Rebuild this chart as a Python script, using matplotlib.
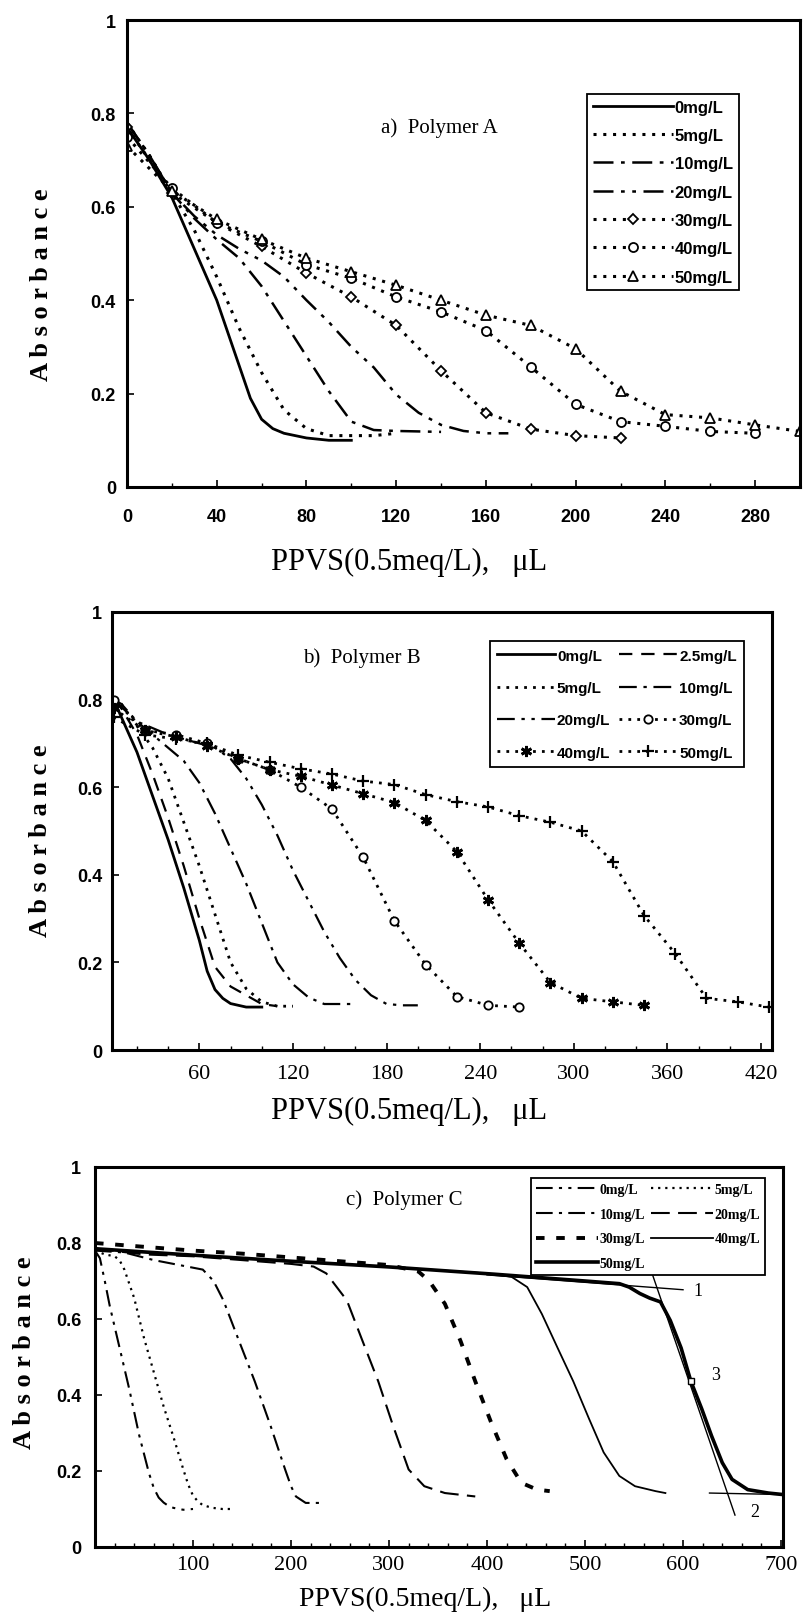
import matplotlib
matplotlib.use("Agg")
import matplotlib.pyplot as plt
from matplotlib.ticker import MultipleLocator, FuncFormatter

# ---------------- data: a) Polymer A ----------------
a_labels = ["0mg/L", "5mg/L", "10mg/L", "20mg/L", "30mg/L", "40mg/L", "50mg/L"]

a0_x = [0, 10, 20, 30, 40, 50, 55, 60, 65, 70, 80, 90, 100]
a0_y = [0.77, 0.70, 0.62, 0.51, 0.40, 0.26, 0.19, 0.145, 0.125, 0.115, 0.105, 0.10, 0.10]

a5_x = [0, 10, 20, 30, 40, 50, 60, 70, 80, 90, 100, 110, 120]
a5_y = [0.78, 0.71, 0.63, 0.55, 0.45, 0.34, 0.245, 0.165, 0.125, 0.11, 0.11, 0.11, 0.115]

a10_x = [0, 10, 20, 30, 40, 50, 60, 70, 80, 90, 100, 110, 120, 130, 140]
a10_y = [0.78, 0.71, 0.63, 0.575, 0.53, 0.49, 0.43, 0.355, 0.28, 0.205, 0.14, 0.122, 0.12, 0.119, 0.118]

a20_x = [0, 10, 20, 30, 40, 50, 60, 70, 80, 90, 100, 110, 120, 130, 140, 150, 160, 170]
a20_y = [0.78, 0.71, 0.63, 0.58, 0.54, 0.51, 0.485, 0.45, 0.40, 0.353, 0.30, 0.256, 0.198,
         0.159, 0.133, 0.12, 0.115, 0.115]

a30_x = [0, 20, 40, 60, 80, 100, 120, 140, 160, 180, 200, 220]
a30_y = [0.77, 0.63, 0.566, 0.515, 0.458, 0.407, 0.346, 0.249, 0.159, 0.124, 0.11, 0.105]

a40_x = [0, 20, 40, 60, 80, 100, 120, 140, 160, 180, 200, 220, 240, 260, 280]
a40_y = [0.75, 0.64, 0.566, 0.526, 0.476, 0.447, 0.407, 0.375, 0.335, 0.257, 0.177, 0.14,
         0.13, 0.119, 0.115]

a50_x = [0, 20, 40, 60, 80, 100, 120, 140, 160, 180, 200, 220, 240, 260, 280, 300]
a50_y = [0.73, 0.634, 0.573, 0.53, 0.49, 0.461, 0.432, 0.40, 0.368, 0.346, 0.296, 0.205,
         0.155, 0.148, 0.133, 0.119]

# ---------------- data: b) Polymer B ----------------
b_labels = ["0mg/L", "2.5mg/L", "5mg/L", "10mg/L", "20mg/L", "30mg/L", "40mg/L", "50mg/L"]

b0_x = [5, 10, 20, 30, 40, 50, 60, 65, 70, 75, 80, 90, 100]
b0_y = [0.80, 0.76, 0.68, 0.58, 0.48, 0.37, 0.25, 0.18, 0.138, 0.118, 0.106, 0.098, 0.098]

b25_x = [5, 10, 20, 30, 40, 50, 60, 70, 80, 90, 100, 110]
b25_y = [0.80, 0.78, 0.72, 0.63, 0.53, 0.42, 0.30, 0.19, 0.145, 0.125, 0.105, 0.10]

b5_x = [5, 10, 20, 30, 40, 50, 60, 70, 80, 90, 100, 110, 120]
b5_y = [0.80, 0.79, 0.74, 0.69, 0.62, 0.52, 0.42, 0.31, 0.20, 0.14, 0.11, 0.10, 0.10]

b10_x = [5, 10, 20, 30, 40, 50, 60, 70, 80, 90, 100, 110, 120, 130, 140, 150, 160]
b10_y = [0.80, 0.79, 0.75, 0.72, 0.69, 0.66, 0.61, 0.54, 0.46, 0.38, 0.29, 0.20, 0.15,
         0.12, 0.105, 0.105, 0.105]

b20_x = [5, 20, 40, 60, 70, 80, 90, 100, 110, 120, 130, 140, 150, 160, 170, 180, 190, 200]
b20_y = [0.80, 0.75, 0.72, 0.70, 0.69, 0.665, 0.62, 0.56, 0.49, 0.41, 0.34, 0.27, 0.21,
         0.16, 0.125, 0.105, 0.102, 0.102]

b30_x = [5, 25, 45, 65, 85, 105, 125, 145, 165, 185, 205, 225, 245, 265]
b30_y = [0.80, 0.73, 0.72, 0.70, 0.665, 0.64, 0.60, 0.55, 0.44, 0.295, 0.195, 0.122, 0.102, 0.098]

b40_x = [5, 25, 45, 65, 85, 105, 125, 145, 165, 185, 205, 225, 245, 265, 285, 305, 325, 345]
b40_y = [0.78, 0.73, 0.715, 0.695, 0.665, 0.64, 0.625, 0.605, 0.585, 0.565, 0.524, 0.453,
         0.343, 0.244, 0.154, 0.118, 0.11, 0.102]

b50_x = [5, 25, 45, 65, 85, 105, 125, 145, 165, 185, 205, 225, 245, 265, 285, 305, 325,
         345, 365, 385, 405, 425]
b50_y = [0.76, 0.72, 0.71, 0.70, 0.673, 0.657, 0.642, 0.63, 0.614, 0.606, 0.583, 0.567,
         0.555, 0.535, 0.52, 0.50, 0.43, 0.307, 0.22, 0.118, 0.11, 0.098]

# ---------------- data: c) Polymer C ----------------
c_labels = ["0mg/L", "5mg/L", "10mg/L", "20mg/L", "30mg/L", "40mg/L", "50mg/L"]

c0_x = [0, 5, 10, 15, 20, 25, 30, 35, 40, 45, 50, 55, 60, 65, 70, 75, 80, 90, 100]
c0_y = [0.78, 0.76, 0.70, 0.635, 0.58, 0.525, 0.47, 0.415, 0.355, 0.295, 0.245, 0.195,
        0.155, 0.13, 0.117, 0.108, 0.103, 0.098, 0.10]

c5_x = [0, 10, 20, 25, 30, 40, 50, 60, 70, 80, 90, 95, 100, 105, 110, 120, 130, 140]
c5_y = [0.78, 0.77, 0.765, 0.755, 0.73, 0.655, 0.55, 0.46, 0.37, 0.29, 0.205, 0.165,
        0.135, 0.12, 0.11, 0.103, 0.10, 0.10]

c10_x = [0, 30, 60, 90, 110, 121, 131, 147, 163, 179, 194, 200, 205, 215, 231]
c10_y = [0.78, 0.775, 0.755, 0.74, 0.73, 0.70, 0.649, 0.542, 0.436, 0.32, 0.204, 0.16,
         0.133, 0.116, 0.116]

c20_x = [0, 50, 100, 150, 200, 223, 236, 257, 273, 289, 304, 320, 336, 357, 388]
c20_y = [0.785, 0.77, 0.765, 0.755, 0.745, 0.738, 0.72, 0.649, 0.542, 0.436, 0.32, 0.204,
         0.16, 0.142, 0.133]

c30_x = [0, 50, 100, 150, 200, 250, 300, 330, 341, 357, 373, 388, 404, 420, 435, 451, 464]
c30_y = [0.80, 0.79, 0.78, 0.772, 0.762, 0.752, 0.742, 0.725, 0.70, 0.64, 0.542, 0.436,
         0.329, 0.231, 0.169, 0.151, 0.147]

c40_x = [0, 100, 200, 300, 400, 425, 441, 456, 472, 488, 504, 519, 535, 551, 572, 582]
c40_y = [0.785, 0.768, 0.752, 0.737, 0.72, 0.711, 0.684, 0.613, 0.524, 0.436, 0.338, 0.249,
         0.187, 0.16, 0.147, 0.142]

c50_x = [0, 100, 200, 300, 407, 500, 535, 545, 556, 566, 577, 587, 598, 608, 619, 629,
         640, 650, 666, 687, 702]
c50_y = [0.785, 0.768, 0.752, 0.737, 0.718, 0.70, 0.693, 0.684, 0.667, 0.655, 0.645, 0.596,
         0.524, 0.436, 0.364, 0.293, 0.222, 0.178, 0.151, 0.142, 0.138]

# tangent construction on the 50mg/L curve
tan1_x = [400, 600]
tan1_y = [0.716, 0.677]
tan2_x = [566, 653]
tan2_y = [0.738, 0.084]
tan3_x = [627, 702]
tan3_y = [0.142, 0.138]
point3_x = [608]
point3_y = [0.436]

# ---------------- styles ----------------
DOT = (0, (1.0, 2.2))
DASH = (0, (6, 4))
LDASH = (0, (9, 4))
DASHDOT = (0, (8, 3, 1.5, 3))
DASHDOT2 = (0, (8, 3, 1.5, 3, 1.5, 3))

SANS = "Liberation Sans"
SERIF = "Liberation Serif"
XLABEL = "PPVS(0.5meq/L),   \u03bcL"
YLABEL = "A b s o r b a n c e"

fig = plt.figure(figsize=(8.05, 16.15), dpi=100)


def setup_axes(rect, xlim, xmajor, xminor, xfont, xsize, xpad, ylab_pad):
    ax = fig.add_axes(rect)
    ax.set_xlim(*xlim)
    ax.set_ylim(0, 1)
    ax.xaxis.set_major_locator(MultipleLocator(xmajor))
    ax.xaxis.set_minor_locator(MultipleLocator(xminor))
    ax.yaxis.set_major_locator(MultipleLocator(0.2))
    ax.yaxis.set_major_formatter(FuncFormatter(
        lambda v, p: "0" if abs(v) < 1e-9 else ("1" if abs(v - 1) < 1e-9 else f"{v:.1f}")))
    for s in ax.spines.values():
        s.set_linewidth(2.2)
    ax.tick_params(axis="both", which="major", direction="in", length=5, width=1.2)
    ax.tick_params(axis="x", which="minor", direction="in", length=3, width=1)
    ax.tick_params(axis="y", pad=ylab_pad)
    ax.tick_params(axis="x", pad=xpad)
    for t in ax.get_yticklabels():
        t.set_fontfamily(SANS)
        t.set_fontweight("bold")
        t.set_fontsize(13)
    for t in ax.get_xticklabels():
        t.set_fontfamily(xfont)
        t.set_fontsize(xsize)
        if xfont == SANS:
            t.set_fontweight("bold")
    return ax


def leg_style(leg):
    fr = leg.get_frame()
    fr.set_edgecolor("black")
    fr.set_linewidth(1.3)
    fr.set_alpha(1)


def add_xlabel(ax, x, y, size=22):
    ax.text(x, y, XLABEL, transform=ax.transAxes, ha="center", va="center",
            fontfamily=SERIF, fontsize=size)


def add_ylabel(ax, x, y):
    ax.text(x, y, YLABEL, transform=ax.transAxes, ha="center", va="center",
            rotation=90, fontfamily=SERIF, fontweight="bold", fontsize=19)


mk = dict(markerfacecolor="white", markeredgecolor="black", markeredgewidth=1.3)

# ================= panel a =================
axa = setup_axes([127 / 805, 1 - 488 / 1615, 673 / 805, 467 / 1615], (0, 300), 40, 20,
                 SANS, 13, 15, 8)
la = []
la += axa.plot(a0_x, a0_y, color="black", lw=2.0, ls="-")
la += axa.plot(a5_x, a5_y, color="black", lw=2.2, ls=DOT)
la += axa.plot(a10_x, a10_y, color="black", lw=1.8, ls=DASHDOT)
la += axa.plot(a20_x, a20_y, color="black", lw=1.8, ls=DASHDOT2)
la += axa.plot(a30_x, a30_y, color="black", lw=2.2, ls=DOT, marker="D", ms=5.5, **mk)
la += axa.plot(a40_x, a40_y, color="black", lw=2.2, ls=DOT, marker="o", ms=6.5, **mk)
la += axa.plot(a50_x, a50_y, color="black", lw=2.2, ls=DOT, marker="^", ms=6.5, **mk)
axa.text(0.464, 0.771, "a)  Polymer A", transform=axa.transAxes, ha="center", va="center",
         fontfamily=SERIF, fontsize=15)
lega = axa.legend(la, a_labels, loc="upper right", bbox_to_anchor=(0.909, 0.842),
                  prop={"family": SANS, "weight": "bold", "size": 12},
                  handlelength=4.8, handletextpad=0.1, labelspacing=0.8,
                  borderpad=0.35, borderaxespad=0, fancybox=False, framealpha=1)
leg_style(lega)
add_xlabel(axa, 0.419, -0.16)
add_ylabel(axa, -0.127, 0.435)

# ================= panel b =================
axb = setup_axes([112 / 805, 1 - 1051 / 1615, 660 / 805, 438 / 1615], (4, 427), 60, 20,
                 SERIF, 16, 10, 7)
lb = []
lb += axb.plot(b0_x, b0_y, color="black", lw=2.0, ls="-")
lb += axb.plot(b25_x, b25_y, color="black", lw=1.6, ls=DASH)
lb += axb.plot(b5_x, b5_y, color="black", lw=2.0, ls=DOT)
lb += axb.plot(b10_x, b10_y, color="black", lw=1.6, ls=DASHDOT)
lb += axb.plot(b20_x, b20_y, color="black", lw=1.6, ls=DASHDOT2)
lb += axb.plot(b30_x, b30_y, color="black", lw=2.0, ls=DOT, marker="o", ms=6, **mk)
lb += axb.plot(b40_x, b40_y, color="black", lw=2.0, ls=DOT, marker=(6, 2, 0), ms=8,
               markeredgewidth=2.0, markeredgecolor="black")
lb += axb.plot(b50_x, b50_y, color="black", lw=2.0, ls=DOT, marker="+", ms=9,
               markeredgewidth=1.6, markeredgecolor="black")
axb.text(0.379, 0.897, "b)  Polymer B", transform=axb.transAxes, ha="center", va="center",
         fontfamily=SERIF, fontsize=15)
order_b = [0, 2, 4, 6, 1, 3, 5, 7]
legb = axb.legend([lb[i] for i in order_b], [b_labels[i] for i in order_b], ncol=2,
                  loc="upper right", bbox_to_anchor=(0.958, 0.934),
                  prop={"family": SANS, "weight": "bold", "size": 11},
                  handlelength=3.8, handletextpad=0.1, labelspacing=1.2, columnspacing=0.6,
                  borderpad=0.5, borderaxespad=0, fancybox=False, framealpha=1)
leg_style(legb)
add_xlabel(axb, 0.45, -0.139)
add_ylabel(axb, -0.109, 0.48)

# ================= panel c =================
axc = setup_axes([95 / 805, 1 - 1548 / 1615, 688 / 805, 380 / 1615], (0, 702), 100, 20,
                 SERIF, 16, 6, 10)
axc.set_xticks([100, 200, 300, 400, 500, 600, 700])
for t in axc.get_xticklabels():
    t.set_fontfamily(SERIF)
    t.set_fontsize(16)
lc = []
lc += axc.plot(c0_x, c0_y, color="black", lw=1.5, ls=DASHDOT2)
lc += axc.plot(c5_x, c5_y, color="black", lw=1.6, ls=DOT)
lc += axc.plot(c10_x, c10_y, color="black", lw=1.5, ls=DASHDOT)
lc += axc.plot(c20_x, c20_y, color="black", lw=1.5, ls=LDASH)
lc += axc.plot(c30_x, c30_y, color="black", lw=2.8, ls=(0, (2.2, 3.0)))
lc += axc.plot(c40_x, c40_y, color="black", lw=1.3, ls="-")
lc += axc.plot(c50_x, c50_y, color="black", lw=2.6, ls="-")
axc.plot(tan1_x, tan1_y, color="black", lw=1.0)
axc.plot(tan2_x, tan2_y, color="black", lw=1.0)
axc.plot(tan3_x, tan3_y, color="black", lw=1.0)
axc.plot(point3_x, point3_y, ls="none", marker="s", ms=4, mfc="white", mec="black", mew=1)
for lab, xx, yy in [("1", 611, 0.676), ("2", 669, 0.093), ("3", 629, 0.453)]:
    axc.text(xx, yy, lab, ha="left", va="center", fontfamily=SERIF, fontsize=13)
axc.text(0.45, 0.916, "c)  Polymer C", transform=axc.transAxes, ha="center", va="center",
         fontfamily=SERIF, fontsize=15)
order_c = [0, 2, 4, 6, 1, 3, 5]
legc = axc.legend([lc[i] for i in order_c], [c_labels[i] for i in order_c], ncol=2,
                  loc="upper right", bbox_to_anchor=(0.974, 0.971),
                  prop={"family": SERIF, "weight": "bold", "size": 10},
                  handlelength=4.5, handletextpad=0.1, labelspacing=0.85, columnspacing=0.4,
                  borderpad=0.35, borderaxespad=0, fancybox=False, framealpha=1)
legc.set_zorder(5)
leg_style(legc)
add_xlabel(axc, 0.48, -0.135, size=20)
add_ylabel(axc, -0.103, 0.513)

fig.savefig("out.png", dpi=100)
